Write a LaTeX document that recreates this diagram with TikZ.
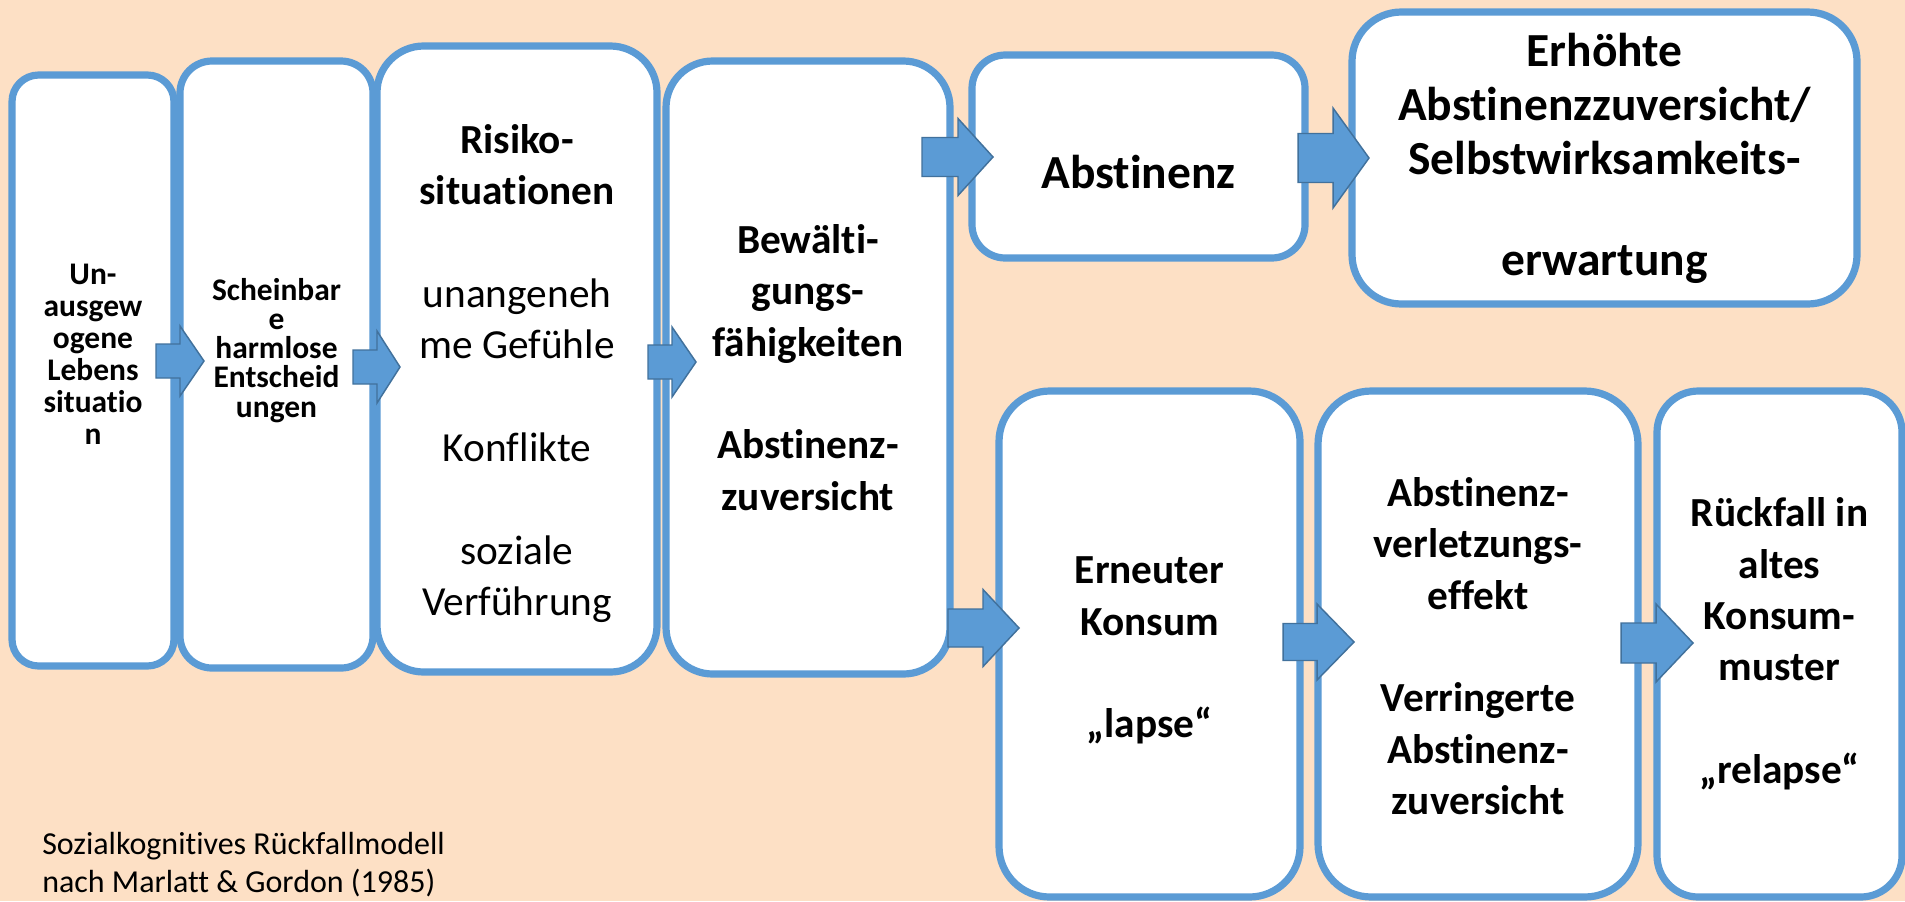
\documentclass[tikz,border=0pt]{standalone}
\usepackage{fontspec}
\setmainfont{Carlito}[Ligatures=NoCommon]
\usetikzlibrary{calc}
\definecolor{bgpeach}{HTML}{FDE0C5}
\definecolor{boxblue}{HTML}{5B9BD5}
\definecolor{arrowedge}{HTML}{41719C}
\newcommand\fsA{\fontsize{23.6}{24}\selectfont\bfseries}
\newcommand\fsB{\fontsize{23.6}{21.8}\selectfont\bfseries}
\newcommand\fsM{\fontsize{31}{38.5}\selectfont}
\newcommand\fsL{\fontsize{35.6}{40.6}\selectfont\bfseries}
\newcommand\blockarrowdraw[5]{\draw[blockarr] (#1) ++(0,-#4) -- ++({#2-#3},0) -- ++(0,{-(#5-#4)}) -- ++(#3,#5) -- ++(-#3,#5) -- ++(0,{-(#5-#4)}) -- ++({-(#2-#3)},0) -- cycle;}
\tikzset{
  box/.style={draw=boxblue, line width=5.4pt, fill=white, inner sep=0pt},
  boxtext/.style={align=center, inner sep=0pt},
  blockarr/.style={fill=boxblue, draw=arrowedge, line width=1.1pt, line join=miter},
}
\begin{document}
\begin{tikzpicture}[x=0.75pt,y=-0.75pt]
\useasboundingbox (0,0) rectangle (1905,901);
\fill[bgpeach] (0,0) rectangle (1905,901);

% boxes
\node[box, minimum width=121.5pt, minimum height=443.25pt, rounded corners=20pt] (b1) at (93,370.5) {};
\node[box, minimum width=144.75pt, minimum height=455.25pt, rounded corners=24pt] (b2) at (276.5,364.5) {};
\node[box, minimum width=210pt, minimum height=469.5pt, rounded corners=35pt] (b3) at (517,359) {};
\node[box, minimum width=213pt, minimum height=459.75pt, rounded corners=35pt] (b4) at (808,367.5) {};
\node[box, minimum width=249.75pt, minimum height=152.25pt, rounded corners=25pt] (b5) at (1138.5,156.5) {};
\node[box, minimum width=378.75pt, minimum height=219pt, rounded corners=37pt] (b6) at (1604.5,158) {};
\node[box, minimum width=225.75pt, minimum height=379.5pt, rounded corners=38pt] (b7) at (1149.5,644) {};
\node[box, minimum width=240pt, minimum height=379.5pt, rounded corners=40pt] (b8) at (1478,644) {};
\node[box, minimum width=183.75pt, minimum height=379.5pt, rounded corners=31pt] (b9) at (1779.5,644) {};

% texts
\node[boxtext, font=\fsA] (t1) at ([yshift=12.4pt]b1.center)
  {Un-\\ausgew\\ogene\\Lebens\\situatio\\n};
\node[boxtext, font=\fsB] (t2) at ([yshift=10.5pt]b2.center)
  {Scheinbar\\e\\harmlose\\Entscheid\\ungen};
\node[boxtext, font=\fsM] (t3) at ([yshift=-11pt]b3.center)
  {\textbf{Risiko-}\\\textbf{situationen}\\[38.5pt]unangeneh\\me Gefühle\\[38.5pt]Konflikte\\[38.5pt]soziale\\Verführung};
\node[boxtext, font=\fsM\bfseries] (t4) at (b4.center)
  {Bewälti-\\gungs-\\fähigkeiten\\[38.5pt]Abstinenz-\\zuversicht};
\node[boxtext, font=\fsL] (t5) at ([yshift=-12pt]b5.center) {Abstinenz};
\node[boxtext, font=\fsL] (t6) at (b6.center)
  {Erhöhte\\Abstinenzzuversicht/\\Selbstwirksamkeits-\\[35pt]erwartung};
\node[boxtext, font=\fsM\bfseries] (t7) at ([yshift=-5pt]b7.center)
  {Erneuter\\Konsum\\[38.5pt]„lapse“};
\node[boxtext, font=\fsM\bfseries] (t8) at ([yshift=-1.5pt]b8.center)
  {Abstinenz-\\verletzungs-\\effekt\\[38.5pt]Verringerte\\Abstinenz-\\zuversicht};
\node[boxtext, font=\fsM\bfseries] (t9) at (b9.center)
  {Rückfall in\\altes\\Konsum-\\muster\\[38.5pt]„relapse“};

% block arrows
\coordinate (a1) at (156,361);
\coordinate (a2) at (353,367);
\coordinate (a3) at (648,362);
\coordinate (a4) at (922,157);
\coordinate (a5) at (1298,158);
\coordinate (a6) at (948,628);
\coordinate (a7) at (1283,642);
\coordinate (a8) at (1621,643);
\blockarrowdraw{a1}{48}{24}{17}{35}
\blockarrowdraw{a2}{47}{23}{17}{36}
\blockarrowdraw{a3}{48}{24}{17}{35}
\blockarrowdraw{a4}{71}{35}{19.5}{38.5}
\blockarrowdraw{a5}{71}{36}{24.5}{50}
\blockarrowdraw{a6}{71}{36}{19}{38.5}
\blockarrowdraw{a7}{71}{37}{18.5}{38}
\blockarrowdraw{a8}{72}{37}{20}{39}

% caption
\node[anchor=south west, inner sep=0pt, align=left, font=\fontsize{24}{28.5}\selectfont] (cap) at (42,897)
  {Sozialkognitives Rückfallmodell\\nach Marlatt \& Gordon (1985)};
\end{tikzpicture}
\end{document}
